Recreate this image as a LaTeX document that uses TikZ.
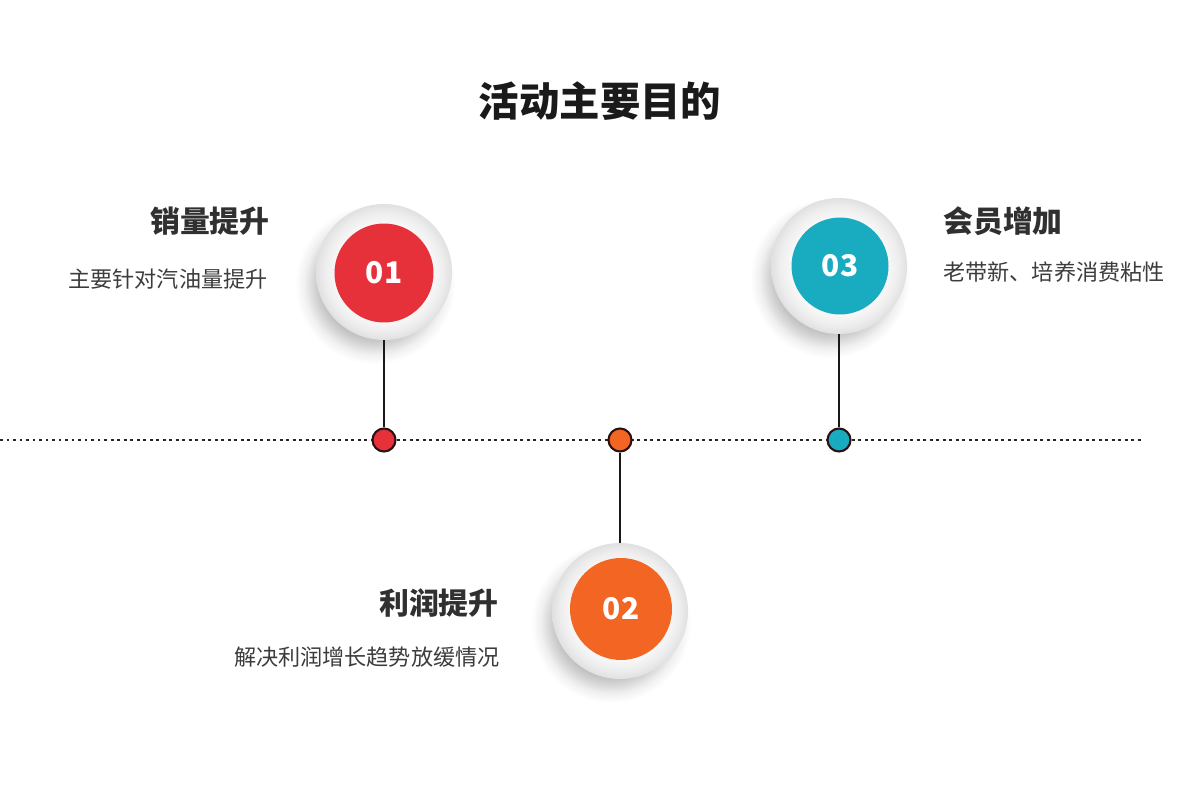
\documentclass[tikz,border=0pt]{standalone}
\usepackage{fontspec}
\setmainfont{Noto Sans CJK SC}
\definecolor{titleink}{HTML}{1A1A1A}
\definecolor{headink}{HTML}{303030}
\definecolor{noteink}{HTML}{3C3C3C}
\definecolor{dotedge}{HTML}{2A1212}
\definecolor{salesred}{HTML}{E6303A}
\definecolor{profitorange}{HTML}{F26522}
\definecolor{memberteal}{HTML}{19ABBF}
\usetikzlibrary{positioning, backgrounds}
\pgfdeclareradialshading{ringshade}{\pgfpoint{0cm}{0cm}}{%
  color(0bp)=(white); color(17bp)=(white!98!black);
  color(22bp)=(white!93!black); color(25bp)=(white!88!black);
  color(50bp)=(white!88!black)}
\pgfdeclareradialshading{shadowshade}{\pgfpoint{0cm}{0cm}}{%
  color(0bp)=(black!30); color(16bp)=(black!27);
  color(19bp)=(black!17); color(22bp)=(black!6);
  color(25bp)=(white); color(50bp)=(white)}
\tikzset{
  ring/.style={
    circle, minimum size=2.72cm, inner sep=0pt, shading=ringshade
  },
  softshadow/.style={shading=shadowshade},
  disc/.style={
    circle, minimum size=#1, inner sep=0pt, text=white,
    font=\bfseries\fontsize{17}{17}\selectfont
  },
  disc/.default=1.98cm,
  dot/.style={
    circle, minimum size=0.46cm, inner sep=0pt,
    fill=#1, draw=dotedge, line width=1.2pt
  },
  stem/.style={line width=1.1pt, black!90},
  timeline/.style={line width=1.2pt, black!85, dash pattern=on 1.7pt off 2pt},
  heading/.style={font=\bfseries\fontsize{17}{20}\selectfont, text=headink, inner sep=0pt},
  note/.style={font=\fontsize{12.6}{15}\selectfont, text=noteink, inner sep=0pt},
}

\begin{document}
\begin{tikzpicture}[x=0.02cm, y=-0.02cm]
  \useasboundingbox (0,0) rectangle (1202,784);

  % title
  \node[font=\bfseries\fontsize{23}{26}\selectfont, text=titleink] (title) at (600,101) {活动主要目的};

  % timeline
  \coordinate (lineL) at (0,440);
  \coordinate (lineR) at (1143,440);
  \draw[timeline] (lineL) -- (lineR);

  % rings with their numbers
  \node[ring] (ring1) at (384,272) {};
  \node[disc, fill=salesred] (num1) at (384,273) {01};
  \node[ring] (ring2) at (620,611) {};
  \node[disc=2.04cm, fill=profitorange] (num2) at (621,609) {02};
  \node[ring] (ring3) at (839,266) {};
  \node[disc=1.94cm, fill=memberteal] (num3) at (840,266) {03};

  % soft shadows behind the rings
  \begin{scope}[on background layer]
    \shade[softshadow] ([shift={(-9,12)}]ring1.center) circle (80);
    \shade[softshadow] ([shift={(-9,12)}]ring2.center) circle (80);
    \shade[softshadow] ([shift={(-9,12)}]ring3.center) circle (80);
  \end{scope}

  % dots on the timeline
  \node[dot=salesred] (dot1) at (384,440) {};
  \node[dot=profitorange] (dot2) at (620,440) {};
  \node[dot=memberteal] (dot3) at (839,440) {};

  \draw[stem] (ring1) -- (dot1);
  \draw[stem] (dot2) -- (ring2);
  \draw[stem] (ring3) -- (dot3);

  % labels
  \node[heading, anchor=east] (head1) at (270,221) {销量提升};
  \node[note, anchor=east] (note1) at (268,279) {主要针对汽油量提升};
  \node[heading, anchor=east] (head2) at (499,603) {利润提升};
  \node[note, anchor=east] (note2) at (500,657) {解决利润增长趋势放缓情况};
  \node[heading, anchor=west] (head3) at (943,221) {会员增加};
  \node[note, anchor=west] (note3) at (943,272) {老带新、培养消费粘性};
\end{tikzpicture}
\end{document}
